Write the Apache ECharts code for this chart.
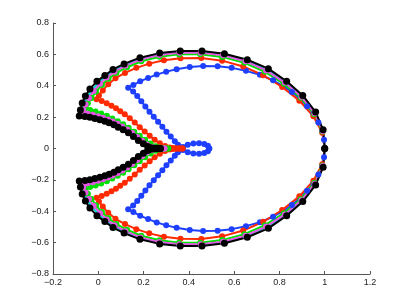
<!DOCTYPE html>
<html>
<head>
<meta charset="utf-8">
<script src="https://cdn.jsdelivr.net/npm/echarts@6/dist/echarts.min.js"></script>
<style>
html,body{margin:0;padding:0;background:#fff;}
#chart{width:409px;height:308px;}
</style>
</head>
<body>
<div id="chart"></div>
<script>
// Tick labels
const xTickLabels = ['\u22120.2','0','0.2','0.4','0.6','0.8','1','1.2'];
const yTickLabels = ['\u22120.8','\u22120.6','\u22120.4','\u22120.2','0','0.2','0.4','0.6','0.8'];

// Curves: upper half from (1,0) to the tip, lower half likewise
const blueUpper = [[1.000,0.000],[0.997,0.055],[0.988,0.110],[0.972,0.165],[0.950,0.220],[0.922,0.270],[0.890,0.316],[0.855,0.360],[0.815,0.400],[0.772,0.435],[0.714,0.470],[0.652,0.495],[0.589,0.514],[0.527,0.524],[0.463,0.526],[0.404,0.520],[0.346,0.505],[0.300,0.490],[0.258,0.471],[0.220,0.450],[0.185,0.428],[0.155,0.405],[0.132,0.388],[0.154,0.363],[0.172,0.334],[0.190,0.301],[0.208,0.268],[0.226,0.235],[0.245,0.203],[0.264,0.171],[0.283,0.139],[0.301,0.107],[0.320,0.076],[0.338,0.047],[0.352,0.024],[0.362,0.008],[0.375,-0.010],[0.395,-0.024],[0.420,-0.032],[0.445,-0.034],[0.468,-0.029],[0.484,-0.017],[0.490,0.000]];
const blueLower = [[1.000,0.000],[0.997,-0.055],[0.988,-0.110],[0.972,-0.165],[0.950,-0.220],[0.922,-0.270],[0.890,-0.316],[0.855,-0.360],[0.815,-0.400],[0.772,-0.435],[0.714,-0.470],[0.652,-0.495],[0.589,-0.514],[0.527,-0.524],[0.463,-0.526],[0.404,-0.520],[0.346,-0.505],[0.300,-0.490],[0.258,-0.471],[0.220,-0.450],[0.185,-0.428],[0.155,-0.405],[0.132,-0.388],[0.154,-0.363],[0.172,-0.334],[0.190,-0.301],[0.208,-0.268],[0.226,-0.235],[0.245,-0.203],[0.264,-0.171],[0.283,-0.139],[0.301,-0.107],[0.320,-0.076],[0.338,-0.047],[0.352,-0.024],[0.362,-0.008],[0.375,0.010],[0.395,0.024],[0.420,0.032],[0.445,0.034],[0.468,0.029],[0.484,0.017],[0.490,0.000]];

const redUpper = [[1.000,0.000],[0.989,0.100],[0.950,0.205],[0.888,0.305],[0.812,0.392],[0.728,0.467],[0.640,0.523],[0.547,0.560],[0.455,0.577],[0.363,0.576],[0.290,0.563],[0.225,0.541],[0.168,0.514],[0.118,0.482],[0.076,0.448],[0.044,0.410],[0.020,0.370],[0.003,0.338],[-0.008,0.314],[0.015,0.303],[0.037,0.289],[0.058,0.273],[0.078,0.256],[0.097,0.238],[0.117,0.218],[0.139,0.193],[0.161,0.165],[0.183,0.136],[0.205,0.108],[0.227,0.081],[0.249,0.055],[0.272,0.033],[0.295,0.016],[0.315,0.006],[0.330,0.003],[0.344,0.002],[0.358,0.001],[0.372,0.000]];
const redLower = [[1.000,0.000],[0.989,-0.100],[0.950,-0.205],[0.888,-0.305],[0.812,-0.392],[0.728,-0.467],[0.640,-0.523],[0.547,-0.560],[0.455,-0.577],[0.363,-0.576],[0.290,-0.563],[0.225,-0.541],[0.168,-0.514],[0.118,-0.482],[0.076,-0.448],[0.044,-0.410],[0.020,-0.370],[0.003,-0.338],[-0.008,-0.314],[0.015,-0.303],[0.037,-0.289],[0.058,-0.273],[0.078,-0.256],[0.097,-0.238],[0.117,-0.218],[0.139,-0.193],[0.161,-0.165],[0.183,-0.136],[0.205,-0.108],[0.227,-0.081],[0.249,-0.055],[0.272,-0.033],[0.295,-0.016],[0.315,-0.006],[0.330,-0.003],[0.344,-0.002],[0.358,-0.001],[0.372,0.000]];

const greenUpper = [[1.000,0.000],[0.990,0.108],[0.954,0.218],[0.894,0.323],[0.820,0.412],[0.736,0.489],[0.645,0.546],[0.547,0.584],[0.450,0.601],[0.357,0.600],[0.270,0.585],[0.190,0.556],[0.127,0.518],[0.080,0.482],[0.045,0.445],[0.016,0.405],[-0.010,0.362],[-0.030,0.322],[-0.046,0.288],[-0.056,0.265],[-0.060,0.255],[-0.036,0.246],[-0.012,0.236],[0.013,0.223],[0.038,0.208],[0.062,0.192],[0.086,0.174],[0.110,0.154],[0.134,0.132],[0.159,0.107],[0.183,0.081],[0.207,0.055],[0.231,0.032],[0.253,0.015],[0.270,0.006],[0.284,0.002],[0.297,0.001],[0.309,0.000]];
const greenLower = [[1.000,0.000],[0.990,-0.108],[0.954,-0.218],[0.894,-0.323],[0.820,-0.412],[0.736,-0.489],[0.645,-0.546],[0.547,-0.584],[0.450,-0.601],[0.357,-0.600],[0.270,-0.585],[0.190,-0.556],[0.127,-0.518],[0.080,-0.482],[0.045,-0.445],[0.016,-0.405],[-0.010,-0.362],[-0.030,-0.322],[-0.046,-0.288],[-0.056,-0.265],[-0.060,-0.255],[-0.036,-0.246],[-0.012,-0.236],[0.013,-0.223],[0.038,-0.208],[0.062,-0.192],[0.086,-0.174],[0.110,-0.154],[0.134,-0.132],[0.159,-0.107],[0.183,-0.081],[0.207,-0.055],[0.231,-0.032],[0.253,-0.015],[0.270,-0.006],[0.284,-0.002],[0.297,-0.001],[0.309,0.000]];

const cyanUpper = [[1.000,0.000],[0.992,0.115],[0.958,0.228],[0.900,0.334],[0.828,0.424],[0.746,0.503],[0.654,0.561],[0.554,0.599],[0.455,0.616],[0.360,0.616],[0.270,0.602],[0.185,0.573],[0.117,0.533],[0.068,0.497],[0.033,0.459],[0.002,0.420],[-0.028,0.373],[-0.049,0.329],[-0.063,0.285],[-0.072,0.244],[-0.077,0.217],[-0.053,0.212],[-0.030,0.206],[-0.008,0.198],[0.014,0.189],[0.036,0.179],[0.056,0.168],[0.077,0.154],[0.097,0.138],[0.119,0.120],[0.142,0.099],[0.164,0.075],[0.186,0.049],[0.207,0.027],[0.226,0.011],[0.241,0.004],[0.255,0.002],[0.268,0.001],[0.282,0.000]];
const cyanLower = [[1.000,0.000],[0.992,-0.115],[0.958,-0.228],[0.900,-0.334],[0.828,-0.424],[0.746,-0.503],[0.654,-0.561],[0.554,-0.599],[0.455,-0.616],[0.360,-0.616],[0.270,-0.602],[0.185,-0.573],[0.117,-0.533],[0.068,-0.497],[0.033,-0.459],[0.002,-0.420],[-0.028,-0.373],[-0.049,-0.329],[-0.063,-0.285],[-0.072,-0.244],[-0.077,-0.217],[-0.053,-0.212],[-0.030,-0.206],[-0.008,-0.198],[0.014,-0.189],[0.036,-0.179],[0.056,-0.168],[0.077,-0.154],[0.097,-0.138],[0.119,-0.120],[0.142,-0.099],[0.164,-0.075],[0.186,-0.049],[0.207,-0.027],[0.226,-0.011],[0.241,-0.004],[0.255,-0.002],[0.268,-0.001],[0.282,0.000]];

const magentaUpper = [[1.000,0.000],[0.991,0.112],[0.956,0.224],[0.897,0.330],[0.824,0.420],[0.741,0.498],[0.650,0.556],[0.551,0.594],[0.452,0.611],[0.358,0.611],[0.269,0.596],[0.186,0.567],[0.120,0.527],[0.072,0.490],[0.037,0.452],[0.008,0.412],[-0.020,0.366],[-0.041,0.322],[-0.056,0.280],[-0.066,0.245],[-0.071,0.228],[-0.047,0.222],[-0.024,0.215],[-0.001,0.206],[0.021,0.196],[0.043,0.185],[0.064,0.172],[0.085,0.157],[0.106,0.140],[0.128,0.121],[0.150,0.099],[0.172,0.074],[0.194,0.049],[0.215,0.026],[0.234,0.011],[0.250,0.004],[0.264,0.002],[0.278,0.001],[0.292,0.000]];
const magentaLower = [[1.000,0.000],[0.991,-0.112],[0.956,-0.224],[0.897,-0.330],[0.824,-0.420],[0.741,-0.498],[0.650,-0.556],[0.551,-0.594],[0.452,-0.611],[0.358,-0.611],[0.269,-0.596],[0.186,-0.567],[0.120,-0.527],[0.072,-0.490],[0.037,-0.452],[0.008,-0.412],[-0.020,-0.366],[-0.041,-0.322],[-0.056,-0.280],[-0.066,-0.245],[-0.071,-0.228],[-0.047,-0.222],[-0.024,-0.215],[-0.001,-0.206],[0.021,-0.196],[0.043,-0.185],[0.064,-0.172],[0.085,-0.157],[0.106,-0.140],[0.128,-0.121],[0.150,-0.099],[0.172,-0.074],[0.194,-0.049],[0.215,-0.026],[0.234,-0.011],[0.250,-0.004],[0.264,-0.002],[0.278,-0.001],[0.292,0.000]];

const blackUpper = [[1.000,0.000],[0.993,0.119],[0.960,0.232],[0.903,0.338],[0.832,0.428],[0.751,0.509],[0.658,0.566],[0.557,0.604],[0.458,0.621],[0.362,0.621],[0.271,0.608],[0.184,0.579],[0.114,0.539],[0.065,0.504],[0.029,0.466],[-0.006,0.428],[-0.037,0.380],[-0.057,0.335],[-0.071,0.290],[-0.079,0.246],[-0.084,0.207],[-0.059,0.204],[-0.037,0.199],[-0.015,0.191],[0.007,0.183],[0.029,0.174],[0.048,0.164],[0.069,0.151],[0.088,0.136],[0.110,0.119],[0.133,0.100],[0.155,0.077],[0.177,0.051],[0.199,0.030],[0.218,0.012],[0.232,0.004],[0.246,0.002],[0.260,0.001],[0.274,0.000]];
const blackLower = [[1.000,0.000],[0.993,-0.119],[0.960,-0.232],[0.903,-0.338],[0.832,-0.428],[0.751,-0.509],[0.658,-0.566],[0.557,-0.604],[0.458,-0.621],[0.362,-0.621],[0.271,-0.608],[0.184,-0.579],[0.114,-0.539],[0.065,-0.504],[0.029,-0.466],[-0.006,-0.428],[-0.037,-0.380],[-0.057,-0.335],[-0.071,-0.290],[-0.079,-0.246],[-0.084,-0.207],[-0.059,-0.204],[-0.037,-0.199],[-0.015,-0.191],[0.007,-0.183],[0.029,-0.174],[0.048,-0.164],[0.069,-0.151],[0.088,-0.136],[0.110,-0.119],[0.133,-0.100],[0.155,-0.077],[0.177,-0.051],[0.199,-0.030],[0.218,-0.012],[0.232,-0.004],[0.246,-0.002],[0.260,-0.001],[0.274,0.000]];

const curves = [
  {up: blueUpper, low: blueLower, color: '#1f3fff', size: 6},
  {up: redUpper, low: redLower, color: '#ff2a00', size: 6},
  {up: greenUpper, low: greenLower, color: '#00e000', size: 6},
  {up: cyanUpper, low: cyanLower, color: '#00d8d8', size: 6},
  {up: magentaUpper, low: magentaLower, color: '#e455e4', size: 6},
  {up: blackUpper, low: blackLower, color: '#000000', size: 7}
];

const chart = echarts.init(document.getElementById('chart'), null, {renderer: 'canvas'});
const axisCommon = {
  type: 'value',
  splitLine: {show: false},
  axisLine: {show: true, onZero: false, lineStyle: {color: '#555', width: 1}},
  axisTick: {show: true, inside: true, length: 3, lineStyle: {color: '#555', width: 1}}
};
chart.setOption({
  animation: false,
  backgroundColor: '#fff',
  grid: {left: 53, right: 39, top: 23, bottom: 34, containLabel: false},
  xAxis: Object.assign({}, axisCommon, {
    min: -0.2, max: 1.2, interval: 0.2,
    axisLabel: {
      fontSize: 9, color: '#222', margin: 4,
      fontFamily: '"Liberation Sans Narrow", "Liberation Sans", Arial, sans-serif',
      formatter: (v, i) => xTickLabels[i]
    }
  }),
  yAxis: Object.assign({}, axisCommon, {
    min: -0.8, max: 0.8, interval: 0.2,
    axisLabel: {
      fontSize: 9, color: '#222', margin: 4,
      fontFamily: '"Liberation Sans", Arial, sans-serif',
      formatter: (v, i) => yTickLabels[i]
    }
  }),
  series: curves.map(c => ({
    type: 'line',
    data: c.up.concat(c.low.slice().reverse()),
    symbol: 'circle',
    symbolSize: c.size,
    showSymbol: true,
    showAllSymbol: true,
    lineStyle: {color: c.color, width: 2},
    itemStyle: {color: c.color},
    emphasis: {disabled: true},
    clip: false
  }))
});
</script>
</body>
</html>
